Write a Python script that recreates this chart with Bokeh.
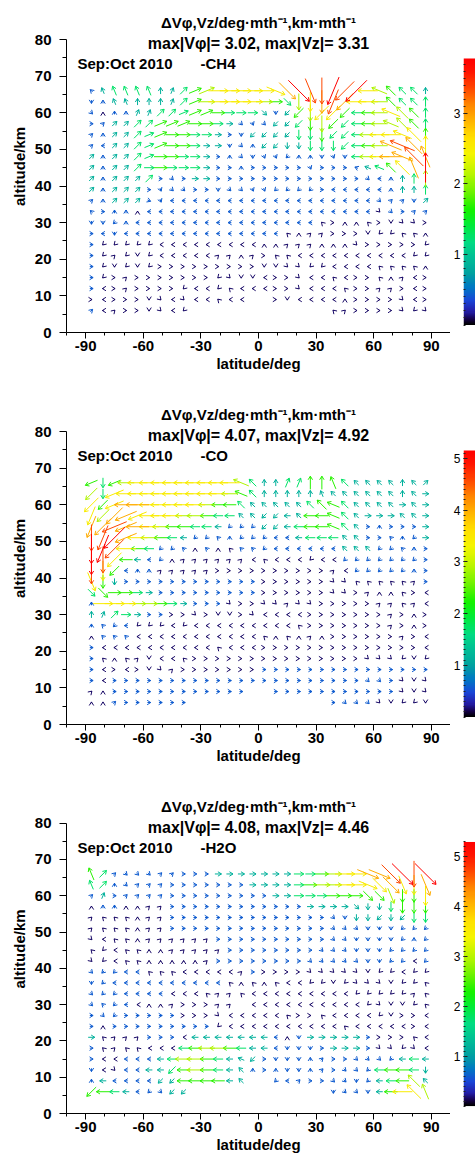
import math
import numpy as np
from bokeh.plotting import figure
from bokeh.layouts import column, row
from bokeh.models import ColumnDataSource, FixedTicker, Label, LinearColorMapper
from bokeh.embed import file_html
from bokeh.resources import INLINE

# ---------------- data ----------------
LATS = [-87, -81, -75, -69, -63, -57, -51, -45, -39, -33, -27, -21, -15, -9, -3,
        3, 9, 15, 21, 27, 33, 39, 45, 51, 57, 63, 69, 75, 81, 87]
ALTS = [66, 63, 60, 57, 54, 51, 48, 45, 42, 39, 36, 33, 30, 27, 24, 21, 18, 15, 12, 9, 6]

# each token: direction (hex, 16 steps of 22.5 deg counter-clockwise from east) + magnitude (0-9 of colour max); "--" = no vector
CH4_FIELD = [
    "61 52 53 53 53 53 42 32 23 14 15 06 06 06 06 06 f6 e7 e9 d8 c8 b9 a8 a9 86 75 64 63 63 42",
    "c1 41 52 52 42 42 42 32 23 14 05 06 06 06 06 05 04 e3 c5 c6 c7 b8 a7 86 86 85 64 63 63 43",
    "e1 40 41 41 32 32 23 23 13 14 14 04 03 03 03 e2 c1 a2 a4 c5 a6 a6 a4 83 84 85 76 65 64 43",
    "01 21 22 22 23 23 14 14 14 04 04 03 02 e1 d1 e1 a2 a2 a3 c4 c5 a4 a3 83 84 85 75 65 64 43",
    "21 41 22 22 23 13 14 04 04 03 03 02 01 c1 a2 a2 a2 a2 c3 c3 c4 a3 a3 83 85 86 86 76 66 44",
    "21 81 22 22 23 13 14 04 04 03 02 02 c1 e1 41 a2 a2 c2 c2 c3 c3 c3 a3 83 84 85 77 78 67 46",
    "22 41 22 22 23 13 04 04 03 03 02 01 41 e1 c1 d1 d1 a1 41 41 c1 d1 c1 83 85 86 87 77 68 57",
    "22 41 22 22 23 03 04 03 03 03 02 01 01 41 01 01 01 01 01 d1 01 01 01 71 72 73 64 66 57 49",
    "22 41 22 22 22 23 01 e1 01 02 02 01 01 01 01 01 01 01 01 01 01 01 01 01 e1 81 41 42 43 45",
    "22 41 22 22 22 01 d1 e1 e1 01 01 c1 e1 e1 d1 d1 a1 a1 a1 a1 01 81 81 81 81 81 41 42 42 43",
    "21 41 22 22 22 f1 d1 81 81 81 81 81 81 81 81 81 81 81 81 81 81 81 81 81 81 e1 21 21 c1 22",
    "61 01 41 41 40 81 81 81 81 81 81 81 81 81 81 81 81 81 81 81 81 81 81 81 81 e0 e1 01 21 21",
    "c1 c1 a1 41 81 81 81 81 81 81 81 81 81 81 81 81 81 81 81 81 60 00 40 40 60 00 c0 e0 e0 00",
    "01 81 c1 81 81 81 81 81 81 81 81 81 81 81 81 81 81 60 40 20 20 00 00 00 c0 a0 a0 60 60 40",
    "01 a0 a0 a0 a0 a0 80 80 80 80 80 80 80 80 80 40 40 20 20 20 40 40 40 e0 00 00 00 00 00 a0",
    "01 a0 20 a0 c0 a0 80 80 80 80 80 20 20 40 20 00 60 60 80 80 80 80 80 80 80 80 80 80 a0 a0",
    "01 a0 c0 a0 c0 a0 00 00 00 00 00 00 00 00 00 c0 c0 e0 e0 a0 a0 80 80 80 80 60 60 60 60 40",
    "01 a0 00 20 00 00 00 00 00 00 00 a0 e0 c0 c0 80 00 00 e0 80 80 60 80 00 00 60 40 20 80 00",
    "01 80 00 20 00 00 00 00 a0 80 80 a0 60 80 80 80 00 00 e0 80 80 80 60 00 00 20 20 00 80 00",
    "00 80 00 00 00 c0 e0 80 e0 80 80 60 80 80 -- -- 00 c0 80 80 80 80 40 00 00 00 00 e0 80 00",
    "21 80 20 00 00 c0 e0 80 a0 -- -- -- -- -- -- -- -- -- -- -- -- 60 20 00 00 00 00 e0 a0 e0",
]

CO_FIELD = [
    "94 c3 94 85 86 86 86 86 86 86 86 86 86 75 63 42 42 33 33 44 44 54 63 62 62 62 62 42 62 22",
    "a5 c3 96 86 86 86 86 86 86 86 86 86 85 74 63 42 42 42 42 42 52 62 62 62 62 62 62 42 62 02",
    "a6 a4 96 87 87 86 86 86 86 86 85 84 84 63 62 62 62 62 62 63 64 74 63 62 62 62 62 02 62 02",
    "b6 a5 a7 97 96 86 86 86 85 85 84 83 83 62 62 a2 a2 82 62 84 84 74 63 62 02 02 02 62 62 02",
    "b7 a7 98 97 87 86 85 84 84 83 83 82 a1 a1 a1 a2 a2 82 83 84 84 74 63 62 01 41 01 01 01 02",
    "c8 b8 a9 97 86 85 84 83 82 a1 a1 61 41 a1 a1 a1 81 81 82 83 83 83 62 62 01 01 61 41 a1 02",
    "c9 b9 a8 86 84 83 a1 a1 61 40 61 40 60 61 61 a1 81 81 81 81 81 81 62 62 62 a1 a1 61 41 01",
    "c9 c8 a6 84 82 81 a1 40 20 20 20 20 20 20 80 60 80 80 80 a0 80 80 a1 a1 a1 a1 a1 a1 a1 01",
    "c8 c6 a4 81 41 41 20 20 20 20 20 00 00 00 00 00 00 00 00 00 00 20 80 a1 a1 a1 a1 a1 41 01",
    "d6 c4 c2 01 01 01 01 01 01 01 01 01 01 01 01 00 00 00 00 00 00 e0 e0 60 60 60 60 60 20 01",
    "e3 e4 04 04 03 02 01 01 01 01 01 01 01 01 01 00 00 00 00 00 00 e0 e0 00 20 40 40 60 00 80",
    "41 06 06 06 05 05 04 03 02 01 01 01 e0 00 00 e0 e0 20 e0 e0 00 00 00 00 00 20 20 60 20 80",
    "42 32 23 03 02 01 01 00 00 e0 00 c0 c0 00 e0 80 80 80 80 00 00 00 00 00 00 00 20 00 40 00",
    "41 61 a1 81 a0 a0 a0 80 a0 80 80 80 80 80 80 80 80 80 60 00 00 00 00 00 00 00 20 00 40 00",
    "40 61 61 61 80 80 80 80 80 80 80 80 80 80 80 60 40 60 40 20 40 00 00 00 00 00 00 20 00 80",
    "01 80 80 80 80 80 80 80 80 80 80 60 80 80 80 00 00 00 00 00 00 00 00 00 00 00 00 00 00 80",
    "01 60 40 60 20 c0 80 80 60 00 00 00 00 00 00 00 00 00 00 00 00 00 00 00 e0 e0 e0 a0 c0 a0",
    "01 80 00 80 00 c0 e0 20 00 00 00 00 00 00 00 01 01 01 01 01 01 01 01 01 01 01 01 01 01 01",
    "01 80 01 01 01 01 01 01 01 01 01 01 01 01 01 01 01 01 01 01 01 01 01 01 e1 e1 01 e0 c0 e0",
    "20 40 01 01 01 01 01 01 01 01 01 01 01 01 -- -- 01 01 01 01 01 01 01 01 01 01 01 e0 c0 e0",
    "40 40 21 01 01 01 01 01 01 -- -- -- -- -- -- -- -- -- -- -- -- 01 e1 e1 e1 e0 c0 a0 a0 c0",
]

H2O_FIELD = [
    "54 23 21 e1 e1 e1 21 21 01 01 01 02 02 02 02 02 02 02 03 03 04 05 06 06 f7 f7 e8 e9 c8 e9",
    "53 23 41 e1 21 21 21 01 01 01 01 01 01 01 02 02 02 02 03 04 05 05 06 06 f6 e6 e7 d6 c6 d7",
    "21 32 01 21 21 21 21 01 01 01 01 01 01 01 01 01 02 02 03 03 03 04 04 04 e4 e4 d5 c4 c4 c6",
    "40 41 41 40 40 20 20 01 01 01 01 01 01 01 01 01 01 01 01 02 02 02 02 e2 c2 c2 c3 c4 c4 c4",
    "20 60 60 60 40 20 20 01 01 01 01 01 01 01 01 01 01 01 01 01 01 e1 c1 c2 c2 a2 c2 a2 c3 c3",
    "20 60 60 60 40 20 20 01 01 01 01 01 01 01 01 01 01 01 01 01 01 e1 e1 e1 c1 c1 c1 a1 a1 a1",
    "e0 80 60 60 40 20 20 20 20 20 20 01 01 01 01 01 01 01 01 01 01 e1 e1 c1 c1 c1 c1 a1 41 a1",
    "60 a0 80 60 60 40 40 20 20 20 20 20 01 01 01 01 01 01 01 01 e1 e1 e1 c1 c1 c1 a1 a1 a1 a1",
    "e0 a0 80 60 60 40 40 40 40 40 20 01 01 01 01 01 01 01 01 e1 e1 e1 e1 e1 c1 c1 a1 a1 80 a1",
    "e1 a1 a1 81 81 60 60 60 80 80 80 80 80 20 01 00 00 00 00 e0 e0 e0 e0 e0 c0 a0 a0 80 a0 a0",
    "c1 a1 81 81 81 81 81 81 81 81 81 81 60 40 60 40 60 80 80 a0 a0 c0 a0 e0 e0 e0 c0 a0 a0 60",
    "e1 a1 a1 81 81 81 81 80 80 80 60 20 20 60 80 80 80 80 80 80 80 80 80 a0 a0 a0 a0 a0 20 60",
    "e1 61 a1 81 80 40 40 20 00 00 00 20 20 -- 80 80 80 80 80 80 80 80 80 80 a0 e0 c0 c0 a0 60",
    "01 e1 a1 01 01 01 01 01 00 00 00 e0 80 80 80 80 80 60 00 00 60 80 80 80 80 a0 c0 00 00 80",
    "01 40 01 01 01 01 01 01 01 01 01 a0 80 80 80 80 80 80 80 80 80 80 60 80 80 80 80 80 00 80",
    "02 60 20 20 20 01 01 01 80 82 82 82 82 82 82 82 81 40 c1 02 02 02 02 02 01 00 00 00 60 80",
    "01 60 20 60 60 80 80 80 83 84 85 85 84 83 82 82 81 c1 c1 c1 01 02 02 02 01 e0 e0 a0 e0 80",
    "01 80 80 81 81 81 82 83 85 85 84 83 82 72 a2 01 c1 c1 c1 41 21 01 01 e1 e1 e1 a1 82 83 82",
    "c1 80 e0 81 81 82 82 a3 84 85 84 83 82 62 41 01 41 c1 c1 41 21 01 e1 e1 a1 83 84 84 83 c2",
    "41 82 81 81 81 81 a2 a2 84 84 84 84 82 62 -- -- a1 81 21 01 01 e1 e1 c1 a1 82 83 84 65 62",
    "a4 84 83 82 81 a1 e1 a2 a2 -- -- -- -- -- -- -- -- -- -- -- -- c1 e1 e1 c1 82 84 86 66 55",
]

FIELDS = [CH4_FIELD, CO_FIELD, H2O_FIELD]
SPECIES = ["-CH4", "-CO", "-H2O"]
MAX_VPHI = [3.02, 4.07, 4.08]
MAX_VZ = [3.31, 4.92, 4.46]
COLOR_MAX = [3.78, 5.15, 5.30]
COLOR_TICKS = [[1, 2, 3], [1, 2, 3, 4, 5], [1, 2, 3, 4, 5]]
X_TICKS = [-90, -60, -30, 0, 30, 60, 90]
Y_TICKS = [0, 10, 20, 30, 40, 50, 60, 70, 80]

# ---------------- style ----------------
FONT = "Liberation Sans"
STOPS = [
    (0.00, (0, 0, 0)), (0.02, (20, 0, 70)), (0.05, (35, 30, 170)), (0.09, (25, 70, 215)),
    (0.14, (0, 120, 195)), (0.19, (0, 160, 160)), (0.25, (0, 190, 150)), (0.31, (0, 220, 130)),
    (0.37, (0, 235, 60)), (0.43, (20, 242, 0)), (0.49, (100, 242, 0)), (0.56, (180, 245, 0)),
    (0.64, (245, 245, 0)), (0.70, (255, 225, 0)), (0.78, (255, 170, 0)), (0.83, (255, 130, 0)),
    (0.89, (255, 70, 0)), (0.95, (255, 20, 0)), (1.00, (255, 0, 0)),
]


def cmap(t):
    t = min(max(t, 0.0), 1.0)
    for (t0, c0), (t1, c1) in zip(STOPS[:-1], STOPS[1:]):
        if t <= t1:
            f = 0 if t1 == t0 else (t - t0) / (t1 - t0)
            return "#%02x%02x%02x" % tuple(int(round(a + (b - a) * f)) for a, b in zip(c0, c1))
    return "#ff0000"


PALETTE = [cmap(i / 255) for i in range(256)]

FRAME_W = 384
PXD = FRAME_W / 200.0      # px per degree
PXK = 293 / 80.0           # px per km
TOP_PX = 39                # canvas y of the 80 km line
FRAME_H = 332              # frame from canvas top down to the 0 km line
Y_HI = 80 + TOP_PX / PXK   # data value at canvas top
CB_TOP, CB_BOT = 58, 324.5 # colour bar extent (canvas y)


def vectors(field):
    recs = []
    for j, rowstr in enumerate(field):
        toks = rowstr.split()
        toks = (toks + ["--"] * 30)[:30]
        for i, tok in enumerate(toks):
            if tok == "--":
                continue
            recs.append((int(tok[1]), LATS[i], ALTS[j], int(tok[0], 16)))
    recs.sort()
    x0, y0, x1, y1, col = [], [], [], [], []
    for m, lat, alt, d in recs:
        th = math.radians(d * 22.5)
        L = max(3.3 * m, 1.2)
        ux, uy = math.cos(th), math.sin(th)
        hx = lat + 0.5 * L * ux / PXD
        hy = alt + 0.5 * L * uy / PXK
        tx = lat - 0.5 * L * ux / PXD
        ty = alt - 0.5 * L * uy / PXK
        c = cmap(max(m, 0.27) / 9.0)
        x0.append(tx); y0.append(ty); x1.append(hx); y1.append(hy); col.append(c)
        for s in (1, -1):
            a = th + math.pi + s * math.radians(32)
            x0.append(hx); y0.append(hy)
            x1.append(hx + 4.2 * math.cos(a) / PXD)
            y1.append(hy + 4.2 * math.sin(a) / PXK)
            col.append(c)
    return ColumnDataSource(dict(x0=x0, y0=y0, x1=x1, y1=y1, color=col))


def panel(k, height):
    bottom = height - FRAME_H
    p = figure(width=450, height=height, x_range=(-100, 100), y_range=(0, Y_HI),
               min_border_left=66, min_border_right=0, min_border_top=0,
               min_border_bottom=bottom, toolbar_location=None, output_backend="svg")
    p.outline_line_color = None
    p.grid.visible = False
    p.background_fill_color = "white"

    src = vectors(FIELDS[k])
    p.segment("x0", "y0", "x1", "y1", source=src, line_color="color", line_width=1)

    p.xaxis.ticker = FixedTicker(ticks=X_TICKS, minor_ticks=list(range(-100, 101, 10)))
    p.xaxis.major_label_overrides = {t: str(t) for t in X_TICKS}
    p.yaxis.ticker = FixedTicker(ticks=Y_TICKS, minor_ticks=list(range(5, 80, 10)))
    p.yaxis.bounds = (0, 80)
    for ax in (p.xaxis[0], p.yaxis[0]):
        ax.axis_line_color = "black"
        ax.major_tick_line_color = "black"
        ax.minor_tick_line_color = "black"
        ax.major_tick_in = 0
        ax.minor_tick_in = 0
        ax.major_label_text_font = FONT
        ax.major_label_text_font_style = "bold"
        ax.major_label_text_font_size = "15px"
        ax.major_label_text_color = "black"
        ax.axis_label_text_font = FONT
        ax.axis_label_text_font_style = "bold"
        ax.axis_label_text_font_size = "15px"
        ax.axis_label_text_color = "black"
    p.xaxis.axis_label = "latitude/deg"
    p.yaxis.axis_label = "altitude/km"
    p.xaxis.major_tick_out = 6
    p.xaxis.minor_tick_out = 3
    p.xaxis.major_label_standoff = 2
    p.xaxis.axis_label_standoff = 1
    p.yaxis.major_tick_out = 7
    p.yaxis.minor_tick_out = 4
    p.yaxis.major_label_standoff = 8
    p.yaxis.axis_label_standoff = 4

    def lab(x, y, text, align="left", size="15px"):
        p.add_layout(Label(x=x, y=y, text=text, text_align=align, text_baseline="middle",
                           text_font=FONT, text_font_style="bold", text_font_size=size,
                           text_color="black"))

    lab(0, 84.6, "\u0394V\u03c6,Vz/deg\u00b7mth\u207b\u00b9,km\u00b7mth\u207b\u00b9", "center", "15px")
    lab(0, 78.8, "max|V\u03c6|= %.2f, max|Vz|= %.2f" % (MAX_VPHI[k], MAX_VZ[k]), "center", "16px")
    lab(-94.3, 73.4, "Sep:Oct 2010")
    lab(-30.2, 73.4, SPECIES[k])

    # colour bar (frame aligned with the main frame; bar drawn between CB_BOT and CB_TOP)
    cmax = COLOR_MAX[k]
    s = (CB_BOT - CB_TOP) / cmax
    y_lo = -(FRAME_H - CB_BOT) / s
    y_hi = cmax + CB_TOP / s
    cb = figure(width=25, height=height, x_range=(0, 1), y_range=(y_lo, y_hi),
                min_border_left=13, min_border_right=0, min_border_top=0,
                min_border_bottom=bottom, x_axis_location=None,
                toolbar_location=None, output_backend="svg")
    cb.outline_line_color = None
    cb.grid.visible = False
    mapper = LinearColorMapper(palette=PALETTE, low=0, high=cmax)
    cb.image(image=[np.linspace(0, cmax, 256).reshape(256, 1)], x=0, y=0, dw=1, dh=cmax,
             color_mapper=mapper)
    ay = cb.yaxis[0]
    ay.ticker = FixedTicker(ticks=COLOR_TICKS[k],
                            minor_ticks=[i / 10 for i in range(0, int(cmax * 10) + 1)])
    ay.bounds = (0, cmax)
    ay.axis_line_color = None
    ay.major_tick_out = 0
    ay.major_tick_in = 4
    ay.minor_tick_out = 0
    ay.minor_tick_in = 2
    ay.major_tick_line_color = "#222222"
    ay.minor_tick_line_color = "#222222"
    ay.major_label_standoff = 3
    ay.major_label_text_font = FONT
    ay.major_label_text_font_size = "12px"
    ay.major_label_text_color = "black"
    return row(p, cb)


layout = column(panel(0, 392), panel(1, 392), panel(2, 371))
open("out.html", "w").write(file_html(layout, INLINE))
